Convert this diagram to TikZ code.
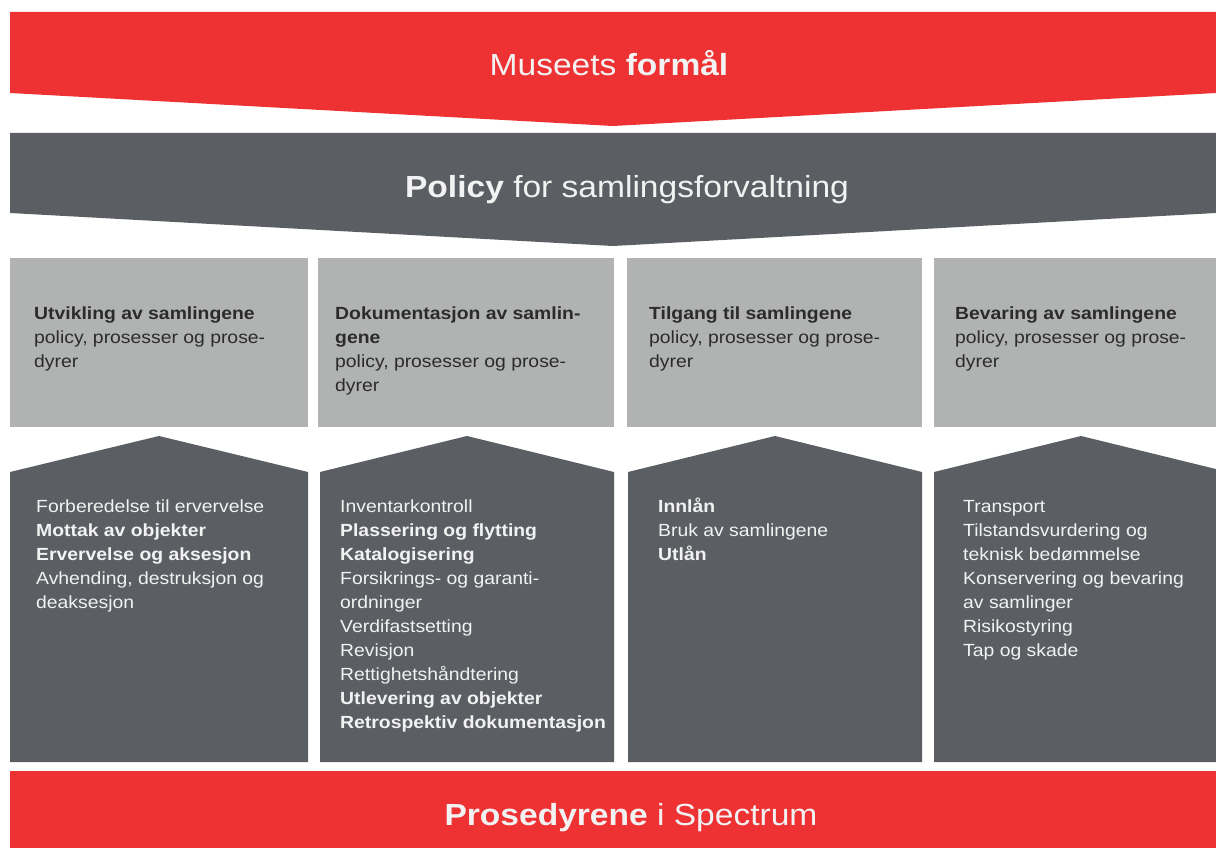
\documentclass[tikz,border=0pt]{standalone}
\usepackage{fontspec}
\setmainfont{Liberation Sans}[FakeStretch=1.1]
\definecolor{spred}{HTML}{EE3234}
\definecolor{spdark}{HTML}{5B5E63}
\definecolor{splight}{HTML}{B1B3B2}
\definecolor{sptext}{HTML}{2B2B2B}
\definecolor{spwhite}{HTML}{F2F2F2}
\begin{document}
\begin{tikzpicture}[x=1pt,y=-1pt,
  banner/.style={font=\fontsize{30.5}{36}\selectfont, text=spwhite, inner sep=0, anchor=base},
  head/.style={font=\fontsize{17.6}{24}\selectfont, text=sptext, align=left, anchor=north west, inner sep=0},
  items/.style={font=\fontsize{17.6}{24}\selectfont, text=spwhite, align=left, anchor=north west, inner sep=0}]
\useasboundingbox (0,0) rectangle (1216,848);
\fill[white] (0,0) rectangle (1216,848);

% top chevron bands
\fill[spred] (10,12) -- (1216,12) -- (1216,93) -- (613,126) -- (10,93) -- cycle;
\fill[spdark] (10,133) -- (1216,133) -- (1216,213) -- (613,246) -- (10,213) -- cycle;
\node[banner] (purpose) at (609,76) {Museets \textbf{formål}};
\node[banner] (policy) at (627,197) {\textbf{Policy} for samlingsforvaltning};

% policy boxes (node tops sit one strut height above the first baseline)
\fill[splight] (10,258) rectangle (308,427);
\fill[splight] (318,258) rectangle (614,427);
\fill[splight] (627,258) rectangle (922,427);
\fill[splight] (934,258) rectangle (1216,427);

\node[head] (h1) at (34,302.2) {\strut\textbf{Utvikling av samlingene}\\policy, prosesser og prose-\\dyrer};
\node[head] (h2) at (335,302.2) {\strut\textbf{Dokumentasjon av samlin-}\\\textbf{gene}\\policy, prosesser og prose-\\dyrer};
\node[head] (h3) at (649,302.2) {\strut\textbf{Tilgang til samlingene}\\policy, prosesser og prose-\\dyrer};
\node[head] (h4) at (955,302.2) {\strut\textbf{Bevaring av samlingene}\\policy, prosesser og prose-\\dyrer};

% procedure houses
\fill[spdark] (10,472) -- (159,436) -- (308,472) -- (308,762) -- (10,762) -- cycle;
\fill[spdark] (320,472) -- (467,436) -- (614,472) -- (614,762) -- (320,762) -- cycle;
\fill[spdark] (628,472) -- (775,436) -- (922,472) -- (922,762) -- (628,762) -- cycle;
\fill[spdark] (934,472) -- (1081,436) -- (1228,472) -- (1228,762) -- (934,762) -- cycle;

\node[items] (p1) at (36,495.9) {\strut Forberedelse til ervervelse\\\textbf{Mottak av objekter}\\\textbf{Ervervelse og aksesjon}\\Avhending, destruksjon og\\deaksesjon};
\node[items] (p2) at (340,495.9) {\strut Inventarkontroll\\\textbf{Plassering og flytting}\\\textbf{Katalogisering}\\Forsikrings- og garanti-\\ordninger\\Verdifastsetting\\Revisjon\\Rettighetshåndtering\\\textbf{Utlevering av objekter}\\\textbf{Retrospektiv dokumentasjon}};
\node[items] (p3) at (658,495.9) {\strut\textbf{Innlån}\\Bruk av samlingene\\\textbf{Utlån}};
\node[items] (p4) at (963,495.9) {\strut Transport\\Tilstandsvurdering og\\teknisk bedømmelse\\Konservering og bevaring\\av samlinger\\Risikostyring\\Tap og skade};

% bottom band
\fill[spred] (10,771) rectangle (1216,848);
\node[banner] (spectrum) at (631,825) {\textbf{Prosedyrene} i Spectrum};
\end{tikzpicture}
\end{document}
